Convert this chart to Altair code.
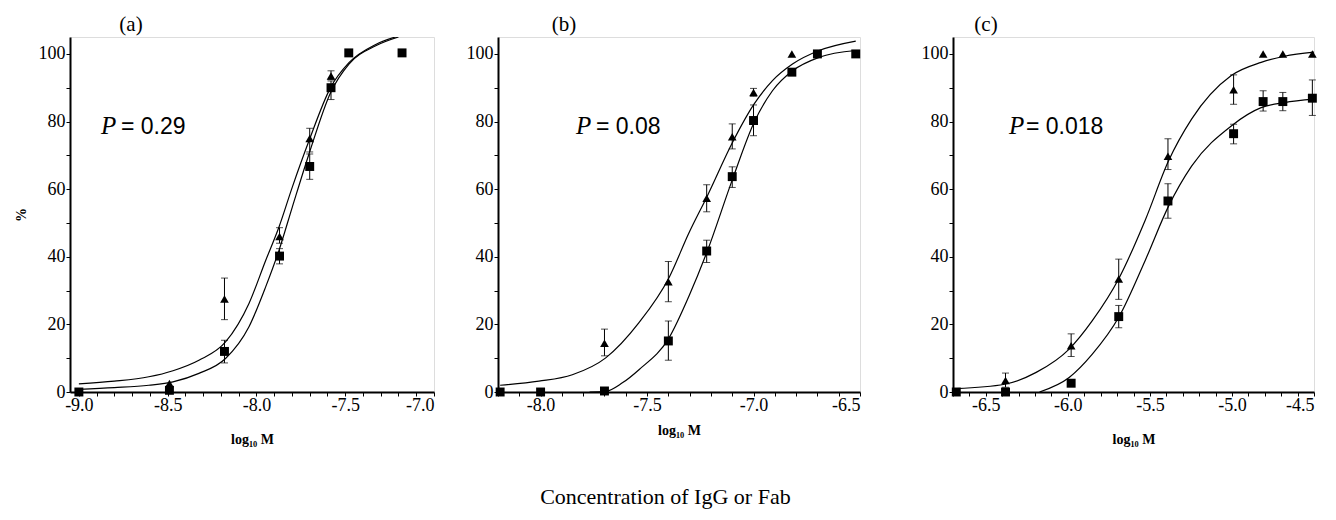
import altair as alt
import pandas as pd

# ---------------- Panel (a) ----------------
a_tri_x = [-8.49, -8.18, -7.87, -7.70, -7.58]
a_tri_y = [2.5, 27.5, 46.0, 75.0, 93.5]
a_tri_lo = [2.5, 21.4, 44.0, 71.0, 92.4]
a_tri_hi = [2.5, 33.7, 48.6, 78.0, 95.0]
a_sq_x = [-9.0, -8.49, -8.18, -7.87, -7.70, -7.58, -7.48, -7.18]
a_sq_y = [0.0, 0.5, 12.0, 40.2, 66.7, 90.0, 100.3, 100.3]
a_sq_lo = [0.0, 0.5, 8.6, 37.9, 62.9, 86.5, 100.3, 100.3]
a_sq_hi = [0.0, 0.5, 15.3, 42.4, 70.4, 92.0, 100.3, 100.3]
a_igg_fit_x = [-9.0, -8.8, -8.606, -8.47, -8.324, -8.174, -8.042, -7.948, -7.873, -7.798, -7.704, -7.582, -7.479, -7.328, -7.2]
a_igg_fit_y = [2.4, 3.2, 4.5, 6.3, 9.4, 14.8, 26.2, 38.9, 48.8, 60.6, 74.3, 90.1, 97.4, 102.8, 105.3]
a_fab_fit_x = [-9.0, -8.8, -8.606, -8.47, -8.324, -8.174, -8.042, -7.948, -7.873, -7.798, -7.704, -7.582, -7.479, -7.328, -7.2]
a_fab_fit_y = [0.8, 1.3, 2.0, 3.0, 5.5, 9.9, 19.3, 31.1, 41.9, 54.7, 70.4, 88.6, 97.0, 102.4, 105.0]

# ---------------- Panel (b) ----------------
b_tri_x = [-7.70, -7.40, -7.22, -7.10, -7.00, -6.82]
b_tri_y = [14.4, 32.6, 57.3, 75.5, 88.6, 100.0]
b_tri_lo = [10.7, 26.7, 53.3, 71.9, 87.5, 100.0]
b_tri_hi = [18.6, 38.6, 61.3, 79.3, 89.8, 100.0]
b_sq_x = [-8.19, -8.0, -7.70, -7.40, -7.22, -7.10, -7.00, -6.82, -6.70, -6.52]
b_sq_y = [0.0, 0.0, 0.3, 15.1, 41.7, 63.7, 80.3, 94.6, 100.0, 100.0]
b_sq_lo = [0.0, 0.0, 0.3, 9.4, 38.3, 60.5, 75.8, 94.6, 100.0, 100.0]
b_sq_hi = [0.0, 0.0, 0.3, 21.0, 44.9, 66.6, 84.9, 94.6, 100.0, 100.0]
b_igg_fit_x = [-8.19, -8.008, -7.851, -7.694, -7.538, -7.397, -7.303, -7.217, -7.099, -6.997, -6.911, -6.817, -6.692, -6.52]
b_igg_fit_y = [2.0, 3.2, 5.1, 10.1, 20.5, 33.8, 47.1, 58.0, 73.8, 85.2, 92.1, 97.0, 101.0, 103.8]
b_fab_fit_x = [-7.77, -7.694, -7.616, -7.538, -7.397, -7.303, -7.217, -7.099, -6.997, -6.911, -6.817, -6.692, -6.52]
b_fab_fit_y = [0.0, 0.2, 2.7, 6.6, 16.0, 28.4, 41.7, 62.9, 79.8, 89.1, 95.0, 99.0, 101.0]

# ---------------- Panel (c) ----------------
c_tri_x = [-6.38, -5.98, -5.69, -5.39, -4.99, -4.81, -4.69, -4.51]
c_tri_y = [3.4, 13.7, 33.4, 69.7, 89.4, 100.0, 100.0, 100.0]
c_tri_lo = [1.4, 10.5, 27.4, 65.8, 85.1, 100.0, 100.0, 100.0]
c_tri_hi = [5.6, 17.2, 39.3, 74.9, 93.8, 100.0, 100.0, 100.0]
c_sq_x = [-6.68, -6.38, -5.98, -5.69, -5.39, -4.99, -4.81, -4.69, -4.51]
c_sq_y = [0.0, 0.0, 2.6, 22.3, 56.5, 76.4, 85.9, 85.9, 86.9]
c_sq_lo = [0.0, 0.0, 2.6, 19.0, 51.4, 73.4, 83.1, 83.2, 81.8]
c_sq_hi = [0.0, 0.0, 2.6, 25.6, 61.6, 79.2, 89.1, 88.6, 92.3]
c_igg_fit_x = [-6.68, -6.385, -6.193, -5.992, -5.851, -5.69, -5.528, -5.387, -5.246, -5.004, -4.822, -4.681, -4.5]
c_igg_fit_y = [1.0, 2.3, 5.8, 12.7, 21.1, 33.5, 50.9, 68.3, 80.7, 93.6, 97.5, 99.3, 100.5]
c_fab_fit_x = [-6.173, -5.992, -5.851, -5.69, -5.528, -5.387, -5.246, -5.004, -4.822, -4.681, -4.5]
c_fab_fit_y = [0.0, 4.3, 11.2, 22.1, 39.0, 54.9, 66.8, 78.7, 84.1, 85.6, 86.6]

panel_letters = ["(a)", "(b)", "(c)"]
p_values = ["= 0.29", "= 0.08", "= 0.018"]
x_domains = [[-9.05, -7.0], [-8.2, -6.5], [-6.7, -4.5]]
x_tick_ranges = [(-90, -70), (-82, -65), (-67, -45)]
y_ticks = [0, 10, 20, 30, 40, 50, 60, 70, 80, 90, 100]

SERIF = "Liberation Serif"
SANS = "Liberation Sans"
H = 355


def points_df(xs, ys, los, his):
    return pd.DataFrame({"x": xs, "y": ys, "lo": los, "hi": his})


def panel(idx, width, tri, sq, fits, p_x, p_eq_x, letter_x, y_title, x_title_pad):
    xt0, xt1 = x_tick_ranges[idx]
    x_ticks = [round(i / 10, 1) for i in range(xt0, xt1 + 1)]
    x_axis = alt.Axis(
        values=x_ticks,
        labelExpr="abs(datum.value*2 - round(datum.value*2)) < 0.001 ? (datum.value < 0 ? '-' : '') + format(abs(datum.value), '.1f') : ''",
        labelOverlap=False, labelPadding=0,
        title="log\u2081\u2080 M", titlePadding=x_title_pad,
    )
    if y_title:
        y_axis = alt.Axis(values=y_ticks, labelExpr="datum.value % 20 === 0 ? datum.label : ''",
                          labelOverlap=False, labelPadding=1, title=y_title, titlePadding=10)
    else:
        y_axis = alt.Axis(values=y_ticks, labelExpr="datum.value % 20 === 0 ? datum.label : ''",
                          labelOverlap=False, labelPadding=1, title=None)
    xs = alt.Scale(domain=x_domains[idx], nice=False, zero=False)
    ys = alt.Scale(domain=[0, 105], nice=False, zero=False)
    X = alt.X("x:Q", scale=xs, axis=x_axis)

    fit_rows = []
    for name, fx, fy in fits:
        for a, b in zip(fx, fy):
            fit_rows.append({"x": a, "y": b, "s": name})
    fit_df = pd.DataFrame(fit_rows)

    lines = alt.Chart(fit_df).mark_line(
        color="black", strokeWidth=1.2, interpolate="monotone", clip=True
    ).encode(x=X, y=alt.Y("y:Q", scale=ys, axis=y_axis), detail="s:N")

    err_df = pd.concat([tri, sq])
    err_df = err_df[err_df["hi"] > err_df["lo"]]
    rules = alt.Chart(err_df).mark_rule(color="black", strokeWidth=1).encode(
        x=X, y=alt.Y("lo:Q", scale=ys, axis=y_axis), y2="hi:Q")
    cap_lo = alt.Chart(err_df).mark_tick(color="black", orient="horizontal", size=7, thickness=1).encode(
        x=X, y=alt.Y("lo:Q", scale=ys, axis=y_axis))
    cap_hi = alt.Chart(err_df).mark_tick(color="black", orient="horizontal", size=7, thickness=1).encode(
        x=X, y=alt.Y("hi:Q", scale=ys, axis=y_axis))

    sq_pts = alt.Chart(sq).mark_point(shape="square", filled=True, color="black", size=80, opacity=1).encode(
        x=X, y=alt.Y("y:Q", scale=ys, axis=y_axis))
    tri_pts = alt.Chart(tri).mark_point(shape="triangle-up", filled=True, color="black", size=75, opacity=1).encode(
        x=X, y=alt.Y("y:Q", scale=ys, axis=y_axis))

    letter = alt.Chart(pd.DataFrame({"t": [panel_letters[idx]]})).mark_text(
        font=SERIF, fontSize=21, color="black", align="center", baseline="alphabetic"
    ).encode(x=alt.value(letter_x), y=alt.value(-6), text="t:N")
    p_it = alt.Chart(pd.DataFrame({"t": ["P"]})).mark_text(
        font=SERIF, fontSize=25, fontStyle="italic", color="black", align="left", baseline="alphabetic"
    ).encode(x=alt.value(p_x), y=alt.value(97), text="t:N")
    p_val = alt.Chart(pd.DataFrame({"t": [p_values[idx]]})).mark_text(
        font=SANS, fontSize=23, color="black", align="left", baseline="alphabetic"
    ).encode(x=alt.value(p_eq_x), y=alt.value(97), text="t:N")

    return alt.layer(lines, rules, cap_lo, cap_hi, sq_pts, tri_pts, letter, p_it, p_val).properties(
        width=width, height=H)


pa = panel(0, 364,
           points_df(a_tri_x, a_tri_y, a_tri_lo, a_tri_hi),
           points_df(a_sq_x, a_sq_y, a_sq_lo, a_sq_hi),
           [("IgG", a_igg_fit_x, a_igg_fit_y), ("Fab", a_fab_fit_x, a_fab_fit_y)],
           31, 51, 61, "%", 18)
pb = panel(1, 362,
           points_df(b_tri_x, b_tri_y, b_tri_lo, b_tri_hi),
           points_df(b_sq_x, b_sq_y, b_sq_lo, b_sq_hi),
           [("IgG", b_igg_fit_x, b_igg_fit_y), ("Fab", b_fab_fit_x, b_fab_fit_y)],
           78, 98, 66, None, 9)
pc = panel(2, 361,
           points_df(c_tri_x, c_tri_y, c_tri_lo, c_tri_hi),
           points_df(c_sq_x, c_sq_y, c_sq_lo, c_sq_hi),
           [("IgG", c_igg_fit_x, c_igg_fit_y), ("Fab", c_fab_fit_x, c_fab_fit_y)],
           56, 73, 33, None, 18)

chart = alt.hconcat(
    alt.hconcat(pa, pb, spacing=30), pc, spacing=59
).properties(
    title=alt.TitleParams(
        "Concentration of IgG or Fab", orient="bottom", anchor="middle",
        font=SERIF, fontSize=22, fontWeight="normal", color="black", offset=40)
).configure_view(stroke=None).configure(background="white").configure_axis(
    labelFont=SERIF, labelFontSize=18, labelColor="black",
    tickSize=4, tickColor="black", tickWidth=1,
    domainColor="black", domainWidth=2, grid=False,
    titleFont=SERIF, titleFontSize=14, titleFontWeight="bold", titleColor="black",
)

chart.save("out.html", embed_options={"renderer": "svg", "actions": False})
